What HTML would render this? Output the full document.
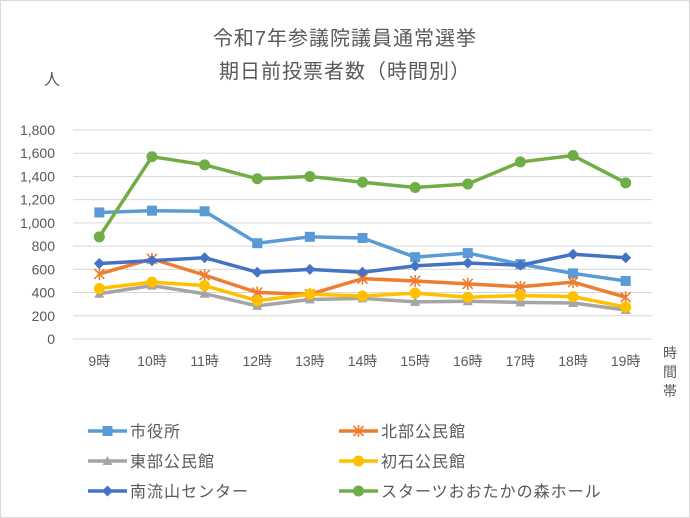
<!DOCTYPE html>
<html><head><meta charset="utf-8"><style>
body{margin:0;background:#fff}
svg{display:block;font-family:"Liberation Sans","Noto Sans CJK JP",sans-serif}
</style></head><body>
<svg width="690" height="518" viewBox="0 0 690 518">
<rect x="0.5" y="0.5" width="689" height="517" fill="#fff" stroke="#d9d9d9"/>
<text x="345" y="45" text-anchor="middle" font-size="20" letter-spacing="1" fill="#595959">令和7年参議院議員通常選挙</text>
<text x="345" y="78" text-anchor="middle" font-size="20" letter-spacing="1" fill="#595959">期日前投票者数（時間別）</text>
<text x="44" y="85" font-size="16" fill="#595959">人</text>
<g font-size="14" fill="#595959">
<text x="663" y="358">時</text><text x="663" y="377">間</text><text x="663" y="396">帯</text></g>
<g id="grid"></g><g id="yt"></g><g id="xt"></g><g id="series"></g><g id="legend"></g>
</svg>
<script>
const categories=["9時","10時","11時","12時","13時","14時","15時","16時","17時","18時","19時"];
const yTicks=[0,200,400,600,800,1000,1200,1400,1600,1800];
const yTickLabels=["0","200","400","600","800","1,000","1,200","1,400","1,600","1,800"];
const seriesNames=["市役所","北部公民館","東部公民館","初石公民館","南流山センター","スターツおおたかの森ホール"];
const shiyakusho=[1090,1105,1100,825,880,870,705,740,645,565,500];
const hokubu=[560,690,550,400,385,520,500,475,450,490,360];
const tobu=[390,460,390,285,340,350,320,325,315,310,250];
const hatsuishi=[435,490,460,330,385,370,395,360,375,365,275];
const minaminagareyama=[650,675,700,575,600,575,630,655,635,730,700];
const starts=[880,1570,1500,1380,1400,1350,1305,1335,1525,1580,1345];
const colors=["#5b9bd5","#ed7d31","#a5a5a5","#ffc000","#4472c4","#70ad47"];
const markers=["square","star","triangle","circle","diamond","circle"];
const data=[shiyakusho,hokubu,tobu,hatsuishi,minaminagareyama,starts];
const NS="http://www.w3.org/2000/svg";
const L=73,R=652,T=130,B=339,yMax=1800;
const band=(R-L)/categories.length;
const x=i=>L+band*(i+0.5);
const y=v=>B-(v/yMax)*(B-T);
function mk(tag,attrs,parent){const e=document.createElementNS(NS,tag);for(const k in attrs)e.setAttribute(k,attrs[k]);parent.appendChild(e);return e;}
const grid=document.getElementById('grid');
yTicks.forEach((t,i)=>{
 const l=mk('line',{x1:L,x2:R,y1:y(t),y2:y(t),stroke:'#d9d9d9','stroke-width':1},grid);
 
 
 const tx=mk('text',{x:55,y:y(t)+5,'text-anchor':'end','font-size':14,fill:'#595959'},document.getElementById('yt'));
 tx.textContent=yTickLabels[i];
 
 
});
categories.forEach((c,i)=>{
 const tx=mk('text',{x:x(i),y:366,'text-anchor':'middle','font-size':14,fill:'#595959'},document.getElementById('xt'));
 tx.textContent=c;
 
 
});
function marker(type,cx,cy,col,g){
 let e;
 if(type==='square')e=mk('rect',{x:cx-5,y:cy-5,width:10,height:10,fill:col},g);
 else if(type==='circle')e=mk('circle',{cx:cx,cy:cy,r:5.5,fill:col},g);
 else if(type==='triangle')e=mk('polygon',{points:`${cx},${cy-5} ${cx+5},${cy+4} ${cx-5},${cy+4}`,fill:col},g);
 else if(type==='diamond')e=mk('polygon',{points:`${cx},${cy-5.5} ${cx+5.5},${cy} ${cx},${cy+5.5} ${cx-5.5},${cy}`,fill:col},g);
 else {e=mk('path',{d:`M${cx-5},${cy-5}L${cx+5},${cy+5}M${cx+5},${cy-5}L${cx-5},${cy+5}M${cx},${cy-6}V${cy+6}`,stroke:col,'stroke-width':1.6,fill:'none'},g);}
 
 
}
const sg=document.getElementById('series');
data.forEach((arr,s)=>{
 const g=mk('g',{},sg);
 
 
 const ln=mk('polyline',{points:arr.map((v,i)=>x(i)+','+y(v)).join(' '),fill:'none',stroke:colors[s],'stroke-width':3.5,'stroke-linejoin':'round'},g);
 
 
 arr.forEach((v,i)=>marker(markers[s],x(i),y(v),colors[s],g));
});
const lg=document.getElementById('legend');
seriesNames.forEach((n,s)=>{
 const col=s%2,row=Math.floor(s/2);
 const lx=col?339:88,ly=431+row*30;
 const g=mk('g',{},lg);
 
 
 mk('line',{x1:lx,x2:lx+39,y1:ly,y2:ly,stroke:colors[s],'stroke-width':3.5},g);
 marker(markers[s],lx+19.5,ly,colors[s],g);
 const t=mk('text',{x:lx+42,y:ly+6,'font-size':16,'letter-spacing':1,fill:'#595959'},g);
 t.textContent=n;
});
</script>
</body></html>
